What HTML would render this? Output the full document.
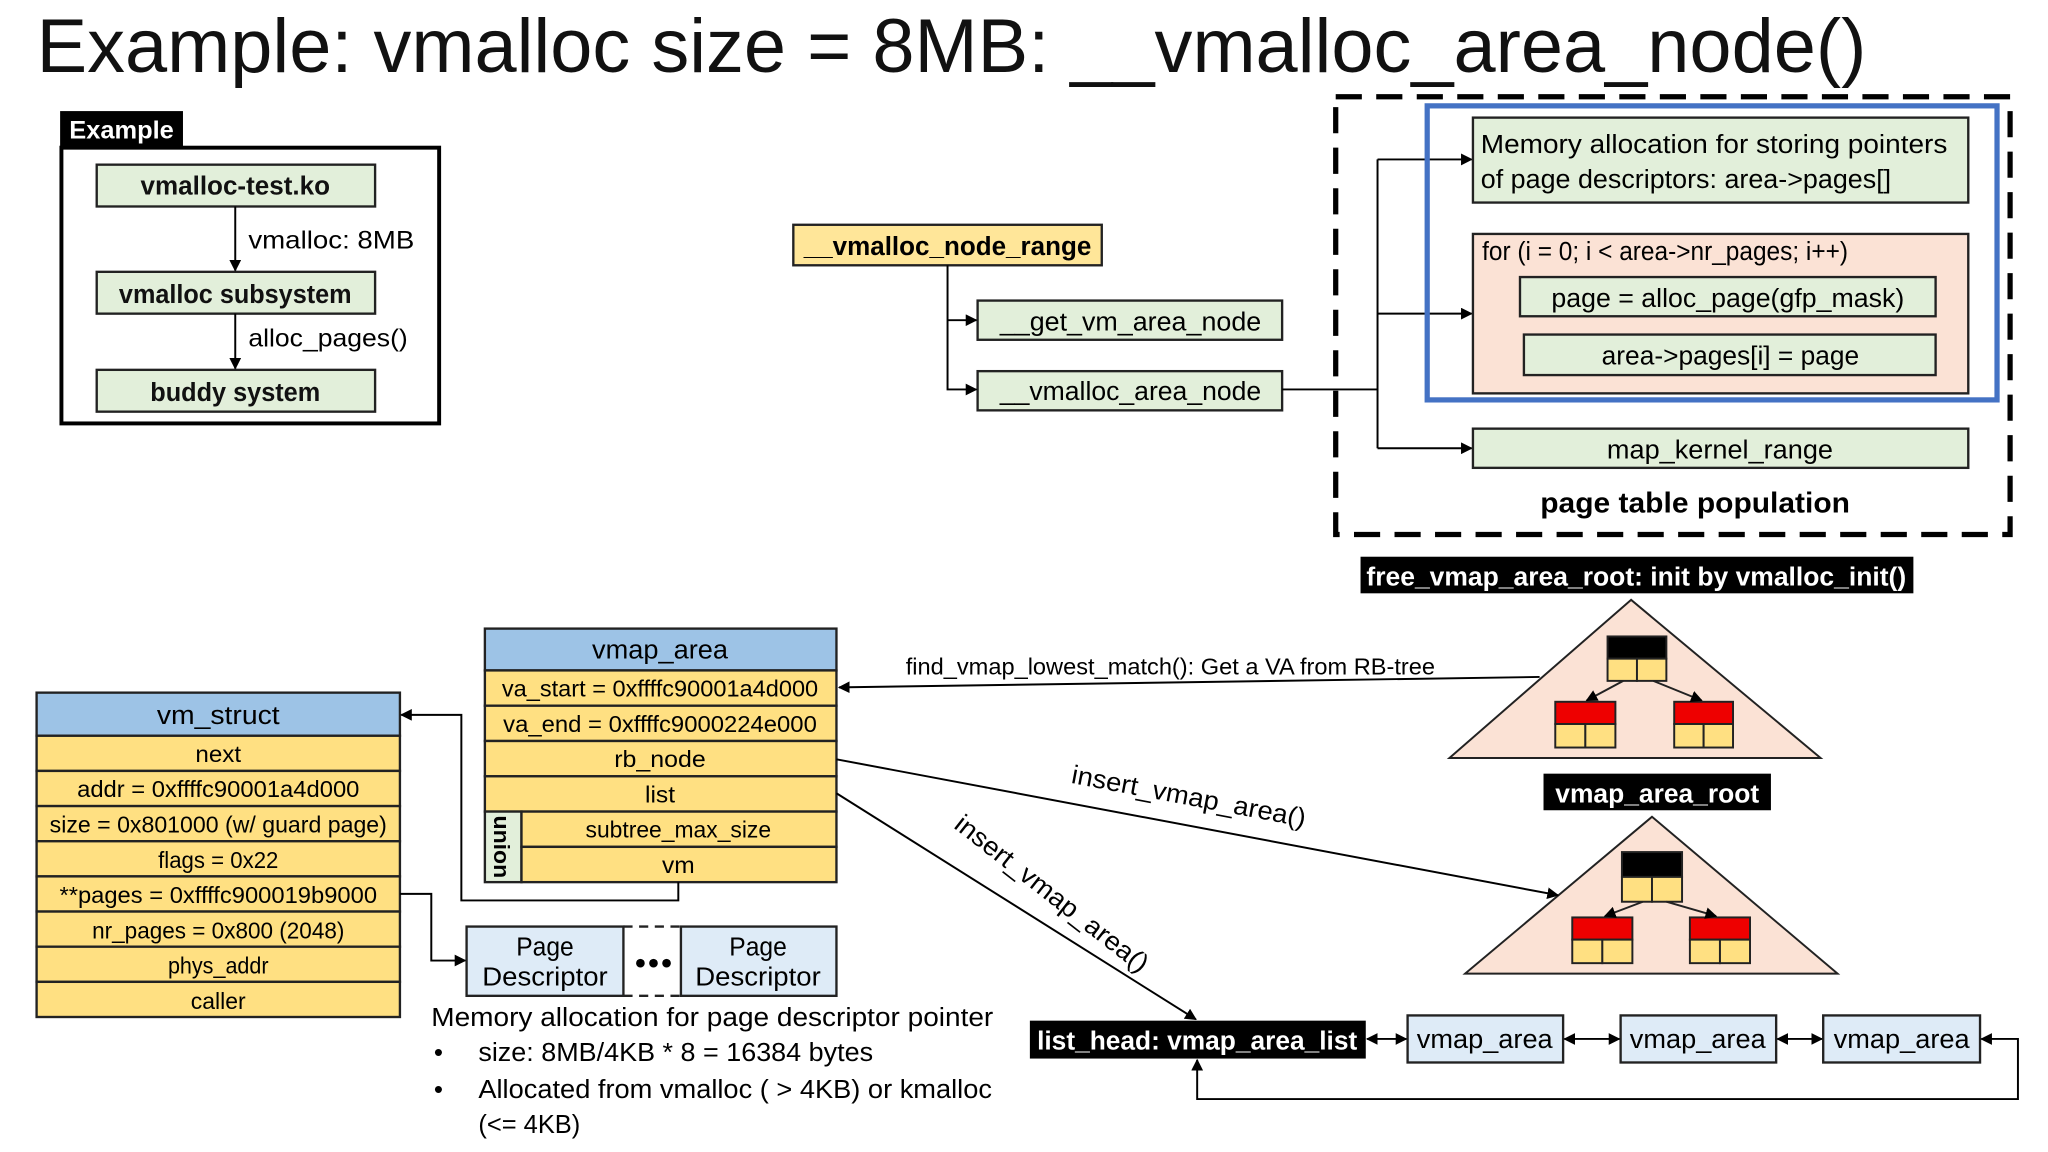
<!DOCTYPE html>
<html><head><meta charset="utf-8"><style>
html,body{margin:0;padding:0;background:#fff;}
svg{display:block;}
text{font-family:"Liberation Sans",sans-serif;}
</style></head><body>
<svg xmlns="http://www.w3.org/2000/svg" width="2048" height="1152" viewBox="0 0 1567 881.5" preserveAspectRatio="none">
<defs>
<marker id="a" viewBox="0 0 10 10" refX="9" refY="5" markerWidth="9" markerHeight="9" markerUnits="userSpaceOnUse" orient="auto-start-reverse"><path d="M0,0 L10,5 L0,10 z" fill="#000"/></marker>
</defs>
<rect width="1567" height="881.5" fill="#fff"/>
<!-- Title -->
<text x="28" y="55" font-size="58" textLength="1400" lengthAdjust="spacingAndGlyphs" fill="#111">Example: vmalloc size = 8MB: __vmalloc_area_node()</text>

<!-- Example box -->
<rect x="46" y="85" width="94" height="28" fill="#000"/>
<text x="53" y="106" font-size="19" font-weight="bold" fill="#fff" textLength="80" lengthAdjust="spacingAndGlyphs">Example</text>
<rect x="47" y="113" width="289" height="211" fill="none" stroke="#000" stroke-width="3"/>
<g stroke="#222" stroke-width="1.8" fill="#e2efda">
<rect x="74" y="126" width="213" height="32"/>
<rect x="74" y="208" width="213" height="32"/>
<rect x="74" y="283" width="213" height="32"/>
</g>
<g font-size="20" font-weight="bold" text-anchor="middle" fill="#111">
<text x="180" y="149" textLength="145" lengthAdjust="spacingAndGlyphs">vmalloc-test.ko</text>
<text x="180" y="232" textLength="178" lengthAdjust="spacingAndGlyphs">vmalloc subsystem</text>
<text x="180" y="307" textLength="130" lengthAdjust="spacingAndGlyphs">buddy system</text>
</g>
<g stroke="#000" stroke-width="1.5">
<line x1="180" y1="158" x2="180" y2="207" marker-end="url(#a)"/>
<line x1="180" y1="240" x2="180" y2="282" marker-end="url(#a)"/>
</g>
<text x="190" y="190" font-size="19" textLength="127" lengthAdjust="spacingAndGlyphs">vmalloc: 8MB</text>
<text x="190" y="265" font-size="19" textLength="122" lengthAdjust="spacingAndGlyphs">alloc_pages()</text>

<!-- vmalloc_node_range -->
<rect x="607" y="172" width="236" height="31" fill="#ffe699" stroke="#222" stroke-width="1.8"/>
<text x="725" y="195" font-size="20" font-weight="bold" text-anchor="middle" textLength="220" lengthAdjust="spacingAndGlyphs">__vmalloc_node_range</text>
<rect x="748" y="230" width="233" height="30" fill="#e2efda" stroke="#222" stroke-width="1.8"/>
<rect x="748" y="284" width="233" height="30" fill="#e2efda" stroke="#222" stroke-width="1.8"/>
<text x="865" y="253" font-size="20" text-anchor="middle" textLength="200" lengthAdjust="spacingAndGlyphs">__get_vm_area_node</text>
<text x="865" y="306" font-size="20" text-anchor="middle" textLength="200" lengthAdjust="spacingAndGlyphs">__vmalloc_area_node</text>
<g stroke="#000" stroke-width="1.5" fill="none">
<polyline points="725,203 725,298 747,298" marker-end="url(#a)"/>
<line x1="725" y1="245" x2="747" y2="245" marker-end="url(#a)"/>
<line x1="981" y1="298" x2="1054" y2="298"/>
<line x1="1054" y1="122" x2="1054" y2="343"/>
<line x1="1054" y1="122" x2="1126" y2="122" marker-end="url(#a)"/>
<line x1="1054" y1="240" x2="1126" y2="240" marker-end="url(#a)"/>
<line x1="1054" y1="343" x2="1126" y2="343" marker-end="url(#a)"/>
</g>

<!-- dashed box -->
<rect x="1022" y="74" width="516" height="335" fill="none" stroke="#000" stroke-width="4" stroke-dasharray="20,11"/>
<rect x="1092" y="81" width="436" height="225" fill="none" stroke="#4472c4" stroke-width="4"/>
<rect x="1127" y="90" width="379" height="65" fill="#e2efda" stroke="#222" stroke-width="1.8"/>
<text x="1133" y="117" font-size="20" textLength="357" lengthAdjust="spacingAndGlyphs">Memory allocation for storing pointers</text>
<text x="1133" y="144" font-size="20" textLength="314" lengthAdjust="spacingAndGlyphs">of page descriptors: area-&gt;pages[]</text>
<rect x="1127" y="179" width="379" height="122" fill="#fbe2d5" stroke="#222" stroke-width="1.8"/>
<text x="1134" y="199" font-size="20" textLength="280" lengthAdjust="spacingAndGlyphs">for (i = 0; i &lt; area-&gt;nr_pages; i++)</text>
<rect x="1163" y="212" width="318" height="30" fill="#e2efda" stroke="#222" stroke-width="1.8"/>
<text x="1322" y="235" font-size="20" text-anchor="middle" textLength="270" lengthAdjust="spacingAndGlyphs">page = alloc_page(gfp_mask)</text>
<rect x="1166" y="256" width="315" height="31" fill="#e2efda" stroke="#222" stroke-width="1.8"/>
<text x="1324" y="279" font-size="20" text-anchor="middle" textLength="197" lengthAdjust="spacingAndGlyphs">area-&gt;pages[i] = page</text>
<rect x="1127" y="328" width="379" height="30" fill="#e2efda" stroke="#222" stroke-width="1.8"/>
<text x="1316" y="351" font-size="20" text-anchor="middle" textLength="173" lengthAdjust="spacingAndGlyphs">map_kernel_range</text>
<text x="1297" y="392" font-size="22" font-weight="bold" text-anchor="middle" textLength="237" lengthAdjust="spacingAndGlyphs">page table population</text>

<!-- free_vmap_area_root -->
<rect x="1041" y="426" width="423" height="28" fill="#000"/>
<text x="1252" y="448" font-size="20" font-weight="bold" fill="#fff" text-anchor="middle" textLength="413" lengthAdjust="spacingAndGlyphs">free_vmap_area_root: init by vmalloc_init()</text>
<polygon points="1248,459 1109,580 1393,580" fill="#fbe2d5" stroke="#222" stroke-width="1.5"/>
<g stroke="#222" stroke-width="1.5">
<rect x="1230" y="487" width="45" height="17" fill="#000"/>
<rect x="1230" y="504" width="22.5" height="17" fill="#ffe082"/><rect x="1252.5" y="504" width="22.5" height="17" fill="#ffe082"/>
<rect x="1190" y="537" width="46" height="17" fill="#e00"/>
<rect x="1190" y="554" width="23" height="18" fill="#ffe082"/><rect x="1213" y="554" width="23" height="18" fill="#ffe082"/>
<rect x="1281" y="537" width="45" height="17" fill="#e00"/>
<rect x="1281" y="554" width="22.5" height="18" fill="#ffe082"/><rect x="1303.5" y="554" width="22.5" height="18" fill="#ffe082"/>
<line x1="1242" y1="521" x2="1214" y2="536" marker-end="url(#a)"/>
<line x1="1265" y1="521" x2="1302" y2="536" marker-end="url(#a)"/>
</g>

<!-- vmap_area_root -->
<rect x="1181" y="592" width="174" height="28" fill="#000"/>
<text x="1268" y="614" font-size="20" font-weight="bold" fill="#fff" text-anchor="middle" textLength="156" lengthAdjust="spacingAndGlyphs">vmap_area_root</text>
<polygon points="1264,625 1121,745 1406,745" fill="#fbe2d5" stroke="#222" stroke-width="1.5"/>
<g stroke="#222" stroke-width="1.5">
<rect x="1241" y="652" width="46" height="19" fill="#000"/>
<rect x="1241" y="671" width="23" height="19" fill="#ffe082"/><rect x="1264" y="671" width="23" height="19" fill="#ffe082"/>
<rect x="1203" y="702" width="46" height="17" fill="#e00"/>
<rect x="1203" y="719" width="23" height="18" fill="#ffe082"/><rect x="1226" y="719" width="23" height="18" fill="#ffe082"/>
<rect x="1293" y="702" width="46" height="17" fill="#e00"/>
<rect x="1293" y="719" width="23" height="18" fill="#ffe082"/><rect x="1316" y="719" width="23" height="18" fill="#ffe082"/>
<line x1="1257" y1="690" x2="1228" y2="701" marker-end="url(#a)"/>
<line x1="1275" y1="690" x2="1313" y2="701" marker-end="url(#a)"/>
</g>

<!-- vmap_area struct -->
<g stroke="#222" stroke-width="1.8">
<rect x="371" y="481" width="269" height="32" fill="#9dc3e6"/>
<rect x="371" y="513" width="269" height="27" fill="#ffe082"/>
<rect x="371" y="540" width="269" height="27" fill="#ffe082"/>
<rect x="371" y="567" width="269" height="27" fill="#ffe082"/>
<rect x="371" y="594" width="269" height="27" fill="#ffe082"/>
<rect x="371" y="621" width="28" height="54" fill="#e2efda"/>
<rect x="399" y="621" width="241" height="27" fill="#ffe082"/>
<rect x="399" y="648" width="241" height="27" fill="#ffe082"/>
</g>
<g font-size="18" text-anchor="middle">
<text x="505" y="504" font-size="20" textLength="104" lengthAdjust="spacingAndGlyphs">vmap_area</text>
<text x="505" y="533" textLength="242" lengthAdjust="spacingAndGlyphs">va_start = 0xffffc90001a4d000</text>
<text x="505" y="560" textLength="240" lengthAdjust="spacingAndGlyphs">va_end = 0xffffc9000224e000</text>
<text x="505" y="587" textLength="70" lengthAdjust="spacingAndGlyphs">rb_node</text>
<text x="505" y="614" textLength="23" lengthAdjust="spacingAndGlyphs">list</text>
<text x="519" y="641" textLength="142" lengthAdjust="spacingAndGlyphs">subtree_max_size</text>
<text x="519" y="668" textLength="25" lengthAdjust="spacingAndGlyphs">vm</text>
</g>
<text transform="translate(378,648) rotate(90)" font-size="17" font-weight="bold" text-anchor="middle" textLength="48" lengthAdjust="spacingAndGlyphs">union</text>

<!-- vm_struct -->
<g stroke="#222" stroke-width="1.8">
<rect x="28" y="530" width="278" height="33" fill="#9dc3e6"/>
<rect x="28" y="563" width="278" height="26.9" fill="#ffe082"/>
<rect x="28" y="589.9" width="278" height="26.9" fill="#ffe082"/>
<rect x="28" y="616.8" width="278" height="26.9" fill="#ffe082"/>
<rect x="28" y="643.7" width="278" height="26.9" fill="#ffe082"/>
<rect x="28" y="670.6" width="278" height="26.9" fill="#ffe082"/>
<rect x="28" y="697.5" width="278" height="26.9" fill="#ffe082"/>
<rect x="28" y="724.4" width="278" height="26.9" fill="#ffe082"/>
<rect x="28" y="751.3" width="278" height="26.9" fill="#ffe082"/>
</g>
<g font-size="18" text-anchor="middle">
<text x="167" y="554" font-size="20" textLength="94" lengthAdjust="spacingAndGlyphs">vm_struct</text>
<text x="167" y="583" textLength="35" lengthAdjust="spacingAndGlyphs">next</text>
<text x="167" y="610" textLength="216" lengthAdjust="spacingAndGlyphs">addr = 0xffffc90001a4d000</text>
<text x="167" y="637" textLength="258" lengthAdjust="spacingAndGlyphs">size = 0x801000 (w/ guard page)</text>
<text x="167" y="664" textLength="92" lengthAdjust="spacingAndGlyphs">flags = 0x22</text>
<text x="167" y="691" textLength="243" lengthAdjust="spacingAndGlyphs">**pages = 0xffffc900019b9000</text>
<text x="167" y="718" textLength="193" lengthAdjust="spacingAndGlyphs">nr_pages = 0x800 (2048)</text>
<text x="167" y="745" textLength="77" lengthAdjust="spacingAndGlyphs">phys_addr</text>
<text x="167" y="772" textLength="42" lengthAdjust="spacingAndGlyphs">caller</text>
</g>

<!-- arrows vm / pages -->
<g stroke="#000" stroke-width="1.5" fill="none">
<polyline points="519,675 519,689 353,689 353,547 307,547" marker-end="url(#a)"/>
<polyline points="306,684 330,684 330,735 356,735" marker-end="url(#a)"/>
</g>
<g stroke="#222" stroke-width="1.8" fill="#deebf7">
<rect x="357" y="709" width="120" height="53"/>
<rect x="521" y="709" width="119" height="53"/>
</g>
<g stroke="#222" stroke-width="1.8" stroke-dasharray="7,5">
<line x1="477" y1="709" x2="521" y2="709"/><line x1="477" y1="762" x2="521" y2="762"/>
</g>
<g font-size="20" text-anchor="middle">
<text x="417" y="731" textLength="44" lengthAdjust="spacingAndGlyphs">Page</text>
<text x="417" y="754" textLength="96" lengthAdjust="spacingAndGlyphs">Descriptor</text>
<text x="580" y="731" textLength="44" lengthAdjust="spacingAndGlyphs">Page</text>
<text x="580" y="754" textLength="96" lengthAdjust="spacingAndGlyphs">Descriptor</text>
</g>
<g fill="#000"><circle cx="490" cy="737" r="3.3"/><circle cx="500" cy="737" r="3.3"/><circle cx="510" cy="737" r="3.3"/></g>
<g font-size="20">
<text x="330" y="785" textLength="430" lengthAdjust="spacingAndGlyphs">Memory allocation for page descriptor pointer</text>
<text x="332" y="812">•</text>
<text x="366" y="812" textLength="302" lengthAdjust="spacingAndGlyphs">size: 8MB/4KB * 8 = 16384 bytes</text>
<text x="332" y="840">•</text>
<text x="366" y="840" textLength="393" lengthAdjust="spacingAndGlyphs">Allocated from vmalloc ( &gt; 4KB) or kmalloc</text>
<text x="366" y="867" textLength="78" lengthAdjust="spacingAndGlyphs">(&lt;= 4KB)</text>
</g>

<!-- long connectors -->
<g stroke="#000" stroke-width="1.5" fill="none">
<line x1="1178" y1="518" x2="642" y2="526" marker-end="url(#a)"/>
<line x1="640" y1="581" x2="1192" y2="685" marker-end="url(#a)"/>
<line x1="640" y1="607" x2="915" y2="780" marker-end="url(#a)"/>
</g>
<text x="693" y="516" font-size="18" textLength="405" lengthAdjust="spacingAndGlyphs">find_vmap_lowest_match(): Get a VA from RB-tree</text>
<text transform="translate(819,599) rotate(10.7)" font-size="20" textLength="182" lengthAdjust="spacingAndGlyphs">insert_vmap_area()</text>
<text transform="translate(729,633) rotate(38)" font-size="20" textLength="182" lengthAdjust="spacingAndGlyphs">insert_vmap_area()</text>

<!-- list -->
<rect x="788" y="781" width="257" height="29" fill="#000"/>
<text x="916" y="803" font-size="20" font-weight="bold" fill="#fff" text-anchor="middle" textLength="245" lengthAdjust="spacingAndGlyphs">list_head: vmap_area_list</text>
<g stroke="#222" stroke-width="1.8" fill="#deebf7">
<rect x="1077" y="777" width="119" height="36"/>
<rect x="1240" y="777" width="119" height="36"/>
<rect x="1395" y="777" width="120" height="36"/>
</g>
<g font-size="20" text-anchor="middle">
<text x="1136" y="802" textLength="104" lengthAdjust="spacingAndGlyphs">vmap_area</text>
<text x="1299" y="802" textLength="104" lengthAdjust="spacingAndGlyphs">vmap_area</text>
<text x="1455" y="802" textLength="104" lengthAdjust="spacingAndGlyphs">vmap_area</text>
</g>
<g stroke="#000" stroke-width="1.5" fill="none">
<line x1="1046" y1="795" x2="1076" y2="795" marker-start="url(#a)" marker-end="url(#a)"/>
<line x1="1197" y1="795" x2="1239" y2="795" marker-start="url(#a)" marker-end="url(#a)"/>
<line x1="1360" y1="795" x2="1394" y2="795" marker-start="url(#a)" marker-end="url(#a)"/>
<polyline points="1516,795 1544,795 1544,841 916,841 916,811" marker-start="url(#a)" marker-end="url(#a)"/>
</g>
</svg>
</body></html>
